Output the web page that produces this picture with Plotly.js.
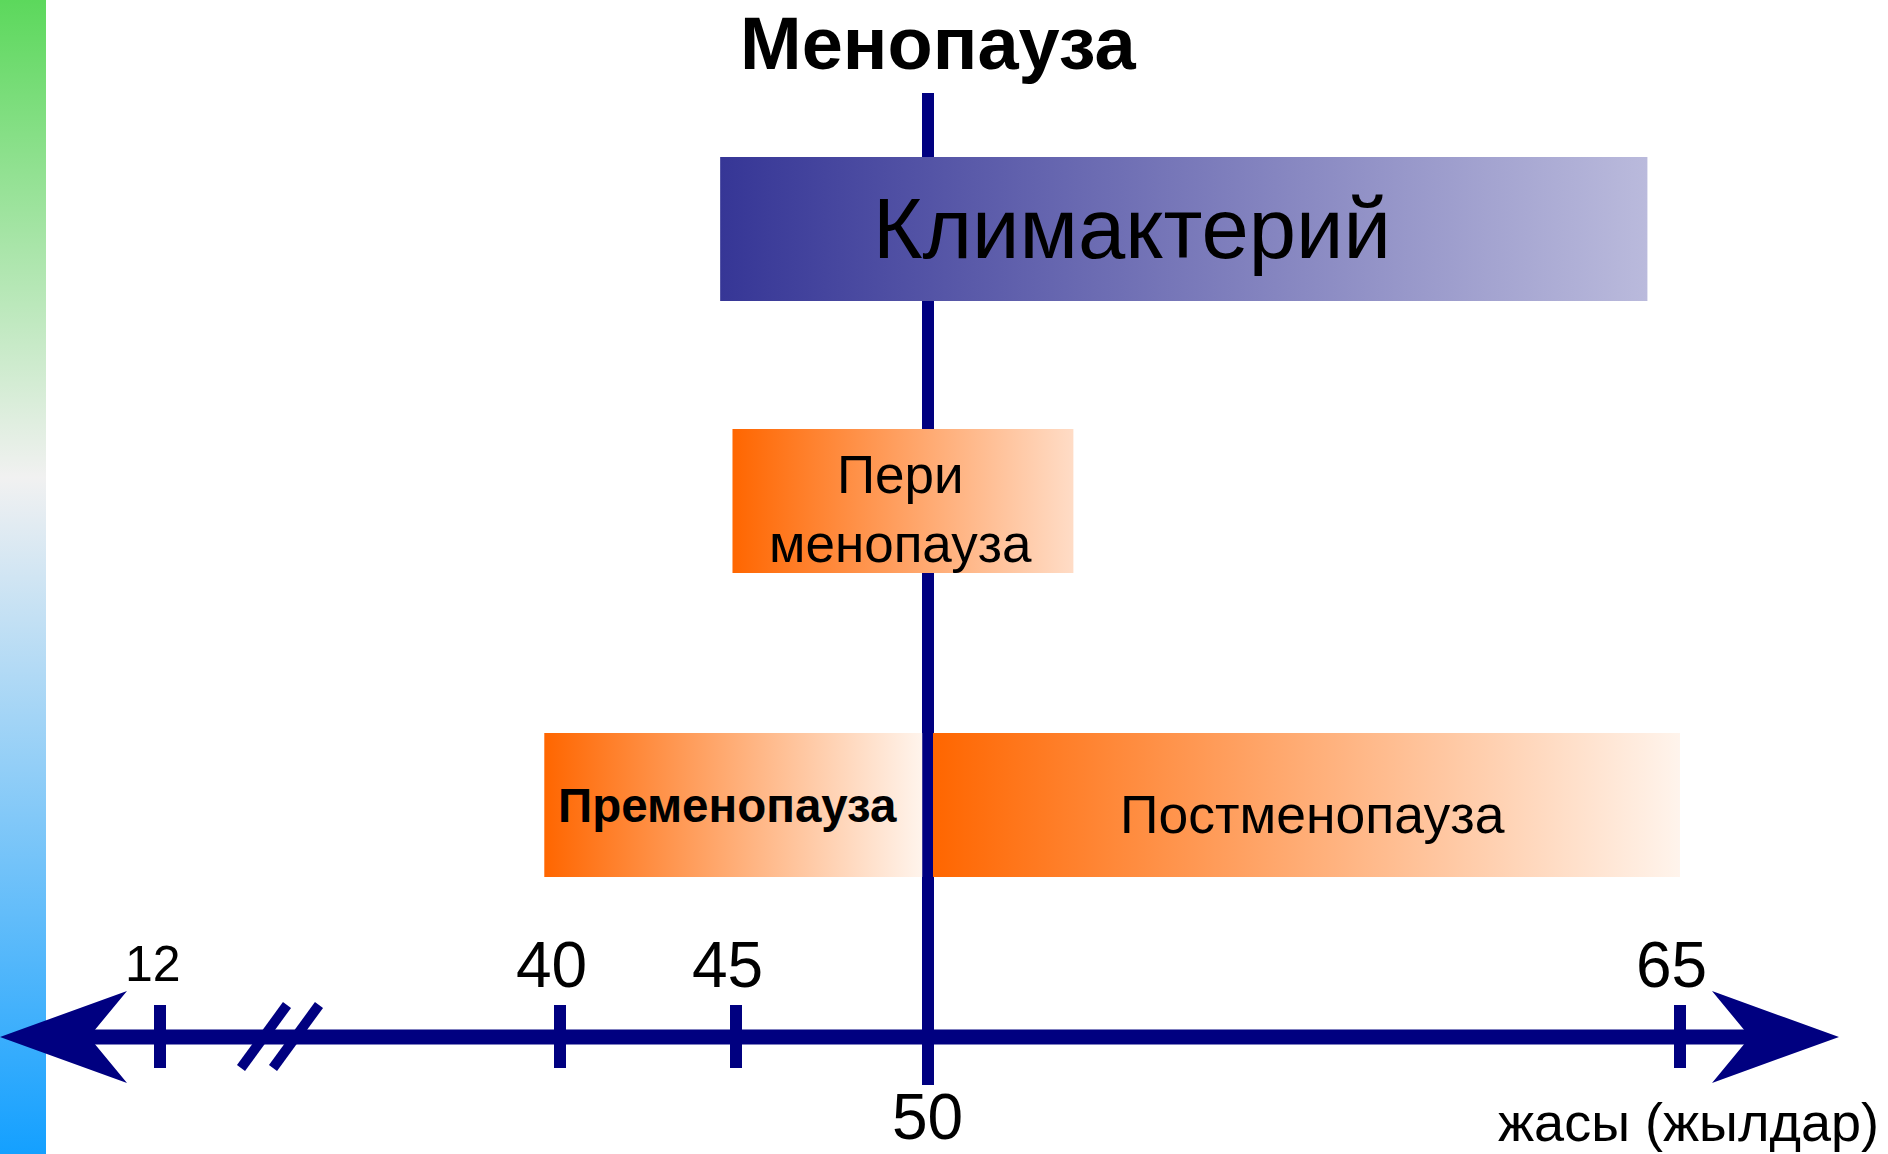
<!DOCTYPE html>
<html>
<head>
<meta charset="utf-8">
<script src="https://cdn.plot.ly/plotly-3.0.1.min.js"></script>
<style>html,body{margin:0;padding:0;background:#fff;}#chart{width:1888px;height:1154px;}</style>
</head>
<body>
<div id="chart"></div>
<script>
// ---------- DATA ----------
const stageNames  = ['Климактерий', 'Пери<br>менопауза', 'Пременопауза', 'Постменопауза'];
const stageStart  = [44.55, 44.9, 38.9, 50.1];   // age (years)
const stageEnd    = [64.35, 52.9, 49.85, 65];    // age (years)
const tickAges    = [12, 40, 45, 50, 65];
const tickLabels  = ['12', '40', '45', '50', '65'];
const menopauseAge = 50;
const titleText   = 'Менопауза';
const axisLabel   = 'жасы (жылдар)';

// ---------- LAYOUT / STYLE CONFIG ----------
const W = 1888, H = 1154;
const tickPx = [160, 560, 736, 928, 1680];          // schematic (broken) axis positions
function ageToX(a) {
  for (let i = 0; i < tickAges.length - 1; i++) {
    if (a <= tickAges[i + 1] || i === tickAges.length - 2) {
      const t = (a - tickAges[i]) / (tickAges[i + 1] - tickAges[i]);
      return tickPx[i] + t * (tickPx[i + 1] - tickPx[i]);
    }
  }
}
const rowCenter = [229, 501, 805, 805];
const barHalf = 72;
const stageColors = [
  [[0, '#363696'], [1, '#babadc']],
  [[0, '#ff6600'], [1, '#ffdcc6']],
  [[0, '#ff6600'], [1, '#fff4ec']],
  [[0, '#ff6600'], [1, '#fff4ec']]
];
const stageFont = [
  {size: 85, weight: 'normal'},
  {size: 53, weight: 'normal'},
  {size: 47.5, weight: 'bold'},
  {size: 53.5, weight: 'normal'}
];
const labelX = [1132, 900, 556, 1312];
const labelY = [228, 509, 805, 814];
const labelAnchor = ['center', 'center', 'left', 'center'];
const NAVY = '#000080';
const FONT = 'Liberation Sans, Arial, sans-serif';
const axisY = 1037;

const traces = [];
const annotations = [];
const shapes = [];

// stage bars (gradient filled rectangles)
stageNames.forEach((name, i) => {
  const x0 = ageToX(stageStart[i]), x1 = ageToX(stageEnd[i]);
  const y0 = rowCenter[i] - barHalf, y1 = rowCenter[i] + barHalf;
  traces.push({
    type: 'scatter', mode: 'lines',
    x: [x0, x1, x1, x0, x0], y: [y0, y0, y1, y1, y0],
    line: {width: 0}, fill: 'toself',
    fillgradient: {type: 'horizontal', colorscale: stageColors[i]},
    hoverinfo: 'skip', showlegend: false, xaxis: 'x', yaxis: 'y'
  });
  annotations.push({
    x: labelX[i], y: labelY[i], xref: 'x', yref: 'y',
    text: name, showarrow: false, xanchor: labelAnchor[i], yanchor: 'middle',
    align: 'center',
    font: {family: FONT, size: stageFont[i].size, color: '#000', weight: stageFont[i].weight}
  });
});

// left decorative gradient strip
traces.push({
  type: 'scatter', mode: 'lines',
  x: [0, 1, 1, 0, 0], y: [0, 0, 1, 1, 0],
  line: {width: 0}, fill: 'toself',
  fillgradient: {type: 'vertical', colorscale: [[0, '#14a0ff'], [0.586, '#f1f1f1'], [1, '#5cd85c']]},
  hoverinfo: 'skip', showlegend: false, xaxis: 'x2', yaxis: 'y2'
});

// menopause vertical line (behind the bars)
const mx = ageToX(menopauseAge);
shapes.push({type: 'line', xref: 'x', yref: 'y', x0: mx, x1: mx, y0: 93, y1: 1085,
  layer: 'below', line: {color: NAVY, width: 12}});

// axis line with arrows
shapes.push({type: 'line', xref: 'x', yref: 'y', x0: 60, x1: 1780, y0: axisY, y1: axisY,
  line: {color: NAVY, width: 15}});
shapes.push({type: 'path', xref: 'x', yref: 'y',
  path: `M 0 ${axisY} L 127 ${axisY - 46} L 89 ${axisY} L 127 ${axisY + 46} Z`,
  fillcolor: NAVY, line: {width: 0}});
shapes.push({type: 'path', xref: 'x', yref: 'y',
  path: `M 1839 ${axisY} L 1712 ${axisY - 46} L 1750 ${axisY} L 1712 ${axisY + 46} Z`,
  fillcolor: NAVY, line: {width: 0}});

// ticks and labels
tickAges.forEach((a, i) => {
  const x = ageToX(a);
  const below = a === menopauseAge;
  if (!below) {
    shapes.push({type: 'line', xref: 'x', yref: 'y', x0: x, x1: x, y0: axisY - 32, y1: axisY + 31,
      line: {color: NAVY, width: 12}});
  } else {
    shapes.push({type: 'line', xref: 'x', yref: 'y', x0: x, x1: x, y0: axisY, y1: 1085,
      line: {color: NAVY, width: 12}});
  }
  annotations.push({
    x: below ? x - 1 : x - (a === 12 ? 7 : 9), y: below ? 1117 : (a === 12 ? 964 : 965),
    xref: 'x', yref: 'y', text: tickLabels[i], showarrow: false,
    xanchor: 'center', yanchor: 'middle',
    font: {family: FONT, size: a === 12 ? 50 : 64, color: '#000'}
  });
});

// axis break marks
[[241, 287], [273, 319]].forEach(([xb, xt]) => {
  shapes.push({type: 'line', xref: 'x', yref: 'y', x0: xb, x1: xt, y0: axisY + 31, y1: axisY - 32,
    line: {color: NAVY, width: 10}});
});

// title and axis label
annotations.push({x: 938, y: 43, xref: 'x', yref: 'y', text: titleText, showarrow: false,
  xanchor: 'center', yanchor: 'middle', borderpad: 0,
  font: {family: FONT, size: 74, color: '#000', weight: 'bold'}});
annotations.push({x: 1688, y: 1122, xref: 'x', yref: 'y', text: axisLabel, showarrow: false,
  xanchor: 'center', yanchor: 'middle',
  font: {family: FONT, size: 54, color: '#000'}});

const layout = {
  width: W, height: H,
  margin: {l: 0, r: 0, t: 0, b: 0, pad: 0},
  paper_bgcolor: '#fff', plot_bgcolor: 'rgba(0,0,0,0)',
  showlegend: false,
  xaxis: {range: [0, W], visible: false, fixedrange: true, domain: [0, 1]},
  yaxis: {range: [H, 0], visible: false, fixedrange: true, domain: [0, 1]},
  xaxis2: {range: [0, 1], visible: false, fixedrange: true, domain: [0, 46 / W], anchor: 'y2'},
  yaxis2: {range: [0, 1], visible: false, fixedrange: true, domain: [0, 1], anchor: 'x2'},
  shapes: shapes,
  annotations: annotations
};

Plotly.newPlot('chart', traces, layout, {staticPlot: true, displayModeBar: false});
</script>
</body>
</html>
